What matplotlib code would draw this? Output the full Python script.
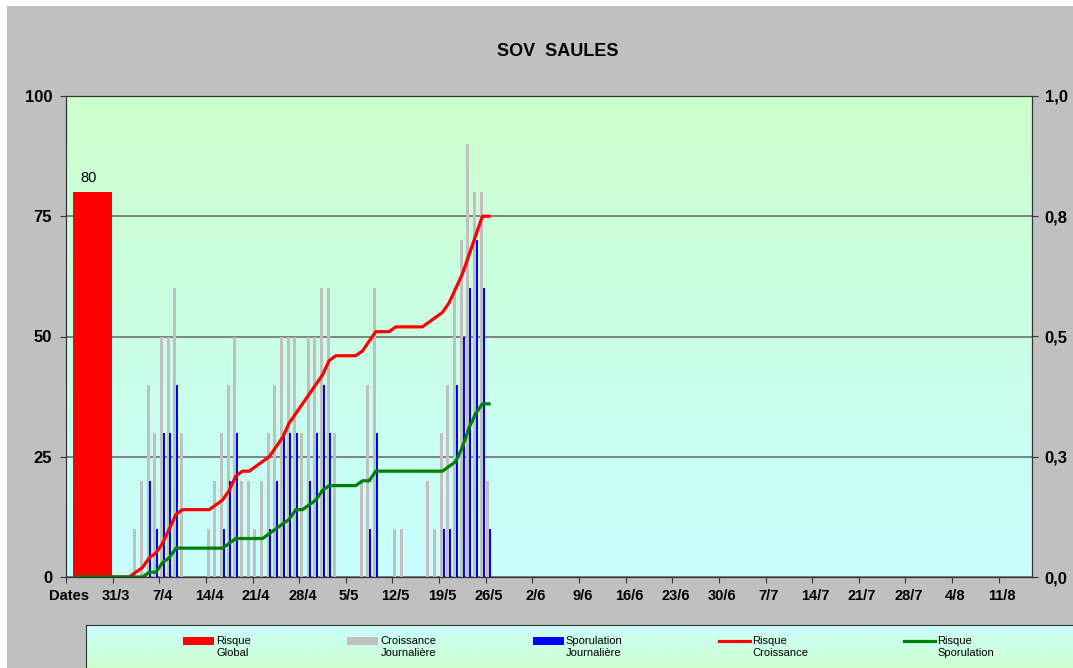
import numpy as np
import matplotlib.pyplot as plt
from matplotlib.patches import Rectangle
from matplotlib.colors import LinearSegmentedColormap

plt.rcParams['font.family'] = ['Liberation Sans', 'DejaVu Sans']

title = "SOV  SAULES"
n_days = 145
date_labels = ["Dates", "31/3", "7/4", "14/4", "21/4", "28/4", "5/5", "12/5", "19/5",
               "26/5", "2/6", "9/6", "16/6", "23/6", "30/6", "7/7", "14/7", "21/7",
               "28/7", "4/8", "11/8"]

risque_global = 80

# daily bars (day index -> value)
croissance_days = [10, 11, 12, 13, 14, 15, 16, 17,
                   21, 22, 23, 24, 25, 26, 27, 28, 29, 30, 31, 32, 33, 34, 35, 36, 37, 38, 39, 40,
                   44, 45, 46, 49, 50,
                   54, 55, 56, 57, 58, 59, 60, 61, 62, 63]
croissance_vals = [10, 20, 40, 30, 50, 50, 60, 30,
                   10, 20, 30, 40, 50, 20, 20, 10, 20, 30, 40, 50, 50, 50, 30, 50, 50, 60, 60, 30,
                   20, 40, 60, 10, 10,
                   20, 10, 30, 40, 60, 70, 90, 80, 80, 20]

sporulation_days = [12, 13, 14, 15, 16,
                    23, 24, 25, 30, 31, 32, 33, 34, 36, 37, 38, 39,
                    45, 46,
                    56, 57, 58, 59, 60, 61, 62, 63]
sporulation_vals = [20, 10, 30, 30, 40,
                    10, 20, 30, 10, 20, 30, 30, 30, 20, 30, 40, 30,
                    10, 30,
                    10, 10, 40, 50, 60, 70, 60, 10]

# cumulative risk lines, days 1..63
line_days = np.arange(1, 64)
risque_croissance = [0, 0, 0, 0, 0, 0, 0, 0, 0,
                     1, 2, 4, 5, 7, 10, 13, 14,
                     14, 14, 14, 14, 15, 16, 18, 21,
                     22, 22, 23, 24, 25, 27, 29, 32,
                     34, 36, 38, 40, 42, 45, 46, 46,
                     46, 46, 47, 49, 51, 51, 51, 52,
                     52, 52, 52, 52, 53, 54, 55, 57,
                     60, 63, 67, 71, 75, 75]
risque_sporulation = [0, 0, 0, 0, 0, 0, 0, 0, 0,
                      0, 0, 1, 1, 3, 4, 6, 6,
                      6, 6, 6, 6, 6, 6, 7, 8,
                      8, 8, 8, 8, 9, 10, 11, 12,
                      14, 14, 15, 16, 18, 19, 19, 19,
                      19, 19, 20, 20, 22, 22, 22, 22,
                      22, 22, 22, 22, 22, 22, 22, 23,
                      24, 27, 31, 34, 36, 36]

W, H = 1073, 668
fig = plt.figure(figsize=(W / 100, H / 100), dpi=100, facecolor='#c0c0c0')
fig.patches.append(Rectangle((0, 1 - 6 / H), 1, 6 / H, transform=fig.transFigure,
                             facecolor='white', edgecolor='none', zorder=0))
fig.patches.append(Rectangle((0, 0), 7 / W, 1, transform=fig.transFigure,
                             facecolor='white', edgecolor='none', zorder=0))

ax = fig.add_axes([66 / W, 91 / H, 966 / W, 481 / H])
grad = np.linspace(0, 1, 256).reshape(-1, 1)
bg = LinearSegmentedColormap.from_list('bg', ['#c8ffff', '#ccffcc'])
ax.imshow(grad, cmap=bg, extent=[0, 1, 0, 1], transform=ax.transAxes,
          aspect='auto', origin='lower', zorder=0)

b1 = ax.bar(3.5, risque_global, width=5.9, color='#ff0000', zorder=3)
b2 = ax.bar(np.array(croissance_days) - 0.17, croissance_vals, width=0.45,
            color='#c0c0c0', zorder=3)
b3 = ax.bar(np.array(sporulation_days) + 0.17, sporulation_vals, width=0.3,
            color='#0000ff', zorder=4)
l1, = ax.plot(line_days, risque_croissance, color='#ff0000', lw=2.3, zorder=5)
l2, = ax.plot(line_days, risque_sporulation, color='#008000', lw=2.3, zorder=6)

ax.annotate(str(risque_global), (3.5, risque_global), xytext=(-3, 5),
            textcoords='offset points', ha='center', va='bottom', fontsize=10.5)

ax.set_xlim(-0.5, n_days - 0.5)
ax.set_ylim(0, 100)
ax.set_yticks([0, 25, 50, 75, 100])
ax.set_yticklabels(['0', '25', '50', '75', '100'], fontsize=12, fontweight='bold')
ax.set_xticks(np.arange(0, n_days + 1, 7) - 0.5)
ax.set_xticklabels([])
ax.set_xticks(np.arange(len(date_labels)) * 7, minor=True)
ax.set_xticklabels(date_labels, minor=True, fontsize=10.5, fontweight='bold')
ax.tick_params(axis='x', which='major', length=4, color='#333333', direction='out')
ax.tick_params(axis='x', which='minor', length=0, pad=9)
ax.tick_params(axis='y', length=4, color='#333333', pad=6)
ax.grid(axis='y', color='#707070', lw=1.2)
ax.set_axisbelow(True)
for s in ax.spines.values():
    s.set_color('#333333')

ax2 = ax.twinx()
ax2.set_ylim(0, 1)
ax2.set_yticks([0, 0.25, 0.5, 0.75, 1.0])
ax2.set_yticklabels(['0,0', '0,3', '0,5', '0,8', '1,0'], fontsize=12, fontweight='bold')
ax2.tick_params(axis='y', length=4, color='#333333', pad=5)
for s in ax2.spines.values():
    s.set_color('#333333')

fig.text(558 / W, 1 - 51 / H, title, ha='center', va='center',
         fontsize=13, fontweight='bold')

# legend box
lax = fig.add_axes([86 / W, 0, 1 - 86 / W, 43 / H])
lg = LinearSegmentedColormap.from_list('lg', ['#ccffcc', '#ccffff'])
lax.imshow(grad, cmap=lg, extent=[0, 1, 0, 1], aspect='auto', origin='lower')
lax.set_xticks([])
lax.set_yticks([])
lax.spines['right'].set_visible(False)
lax.spines['bottom'].set_visible(False)
for s in ('top', 'left'):
    lax.spines[s].set_color('#333333')

leg = fig.legend([b1, b2, b3, l1, l2],
                 ["Risque\nGlobal", "Croissance\nJournalière", "Sporulation\nJournalière",
                  "Risque\nCroissance", "Risque\nSporulation"],
                 ncol=5, loc='center left', bbox_to_anchor=(183 / W, 21 / H),
                 frameon=False, fontsize=8, handlelength=2.8, handletextpad=0.2,
                 columnspacing=8.65, borderpad=0, borderaxespad=0)

# put the legend keys next to the first line of text, as in the original
shift = 4.5
for h in leg.legend_handles:
    if isinstance(h, Rectangle):
        h.set_y(h.get_y() + shift)
    else:
        h.set_ydata(np.asarray(h.get_ydata()) + shift)

fig.savefig('out.png', dpi=100, facecolor=fig.get_facecolor())
